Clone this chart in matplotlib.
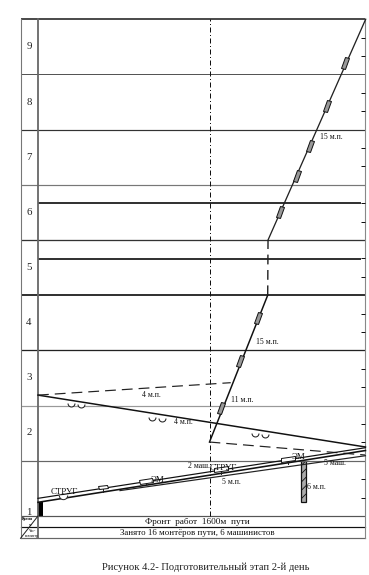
import numpy as np
import matplotlib
matplotlib.use("Agg")
import matplotlib.pyplot as plt
from matplotlib.markers import MarkerStyle
from matplotlib.patches import Rectangle
from matplotlib.path import Path
from matplotlib.transforms import Affine2D

plt.rcParams['font.family'] = ['Liberation Serif', 'DejaVu Serif']
plt.rcParams['hatch.linewidth'] = 0.6

# --- data: x in metres along the track, y in hours ---
hour_labels = ['1', '2', '3', '4', '5', '6', '7', '8', '9']
hour_label_y = [0.07, 1.52, 2.5, 3.5, 4.5, 5.5, 6.5, 7.5, 8.5]
front_m = 1600

progress_m = [1600, 2143]
progress_h = [1.34, 4.0]
pause_m = [2143, 2146]
pause_h = [4.0, 5.0]
progress2_m = [2146, 3057]
progress2_h = [5.0, 9.0]

prep_m = [0, 3055]
prep_h = [2.19, 1.25]
prep_dash_m = [0, 1798]
prep_dash_h = [2.19, 2.415]
low_dash_m = [1600, 3051]
low_dash_h = [1.34, 1.105]

track_a_m = [0, 3055]
track_a_h = [0.32, 1.237]
track_b_m = [0, 3055]
track_b_h = [0.248, 1.186]
track_c_m = [765, 3055]
track_c_h = [0.46, 1.092]

block_m = [1707, 1885, 2053, 2258, 2414, 2535, 2696, 2867]
block_h = [1.957, 2.81, 3.587, 5.507, 6.16, 6.71, 7.43, 8.20]
worker_m = [308, 401, 1061, 1154, 2027, 2121]
worker_h = [2.05, 2.02, 1.80, 1.78, 1.51, 1.48]

machine_m = [604, 1008, 1710, 2333]
machine_h = [0.53, 0.643, 0.85, 1.03]
machine_w = [9, 13, 14, 14]

# --- canvas ---
fig = plt.figure(figsize=(3.69, 5.75), dpi=100)
ax = fig.add_axes([0, 0, 1, 1])
ax.set_xlim(-354.5, 3088)
ax.set_ylim(-1.069, 9.348)
ax.axis('off')

LEFT, RIGHT = -163, 3055
px = 0.72

# horizontal grid (hour, left, colour, width px)
grid = [(9, LEFT, '#222222', 1.6), (8, LEFT, '#555555', 1.0), (7, LEFT, '#333333', 1.2),
        (6, LEFT, '#777777', 1.2), (5, LEFT, '#333333', 1.3), (4, LEFT, '#111111', 1.7),
        (3, LEFT, '#222222', 1.3), (2, LEFT, '#999999', 1.2), (1, LEFT, '#666666', 1.2),
        (0, LEFT, '#555555', 1.2)]
for h, x0, c, w in grid:
    ax.plot([x0, RIGHT], [h, h], color=c, lw=w*px, solid_capstyle='butt')
for h in [5.67, 4.66]:
    ax.plot([0, 3010], [h, h], color='#111111', lw=1.7*px, solid_capstyle='butt')
ax.plot([LEFT, RIGHT], [-0.199, -0.199], color='#111111', lw=1.2*px)
ax.plot([LEFT, RIGHT], [-0.404, -0.404], color='#666666', lw=1.2*px)

# verticals
ax.plot([LEFT, LEFT], [-0.404, 9], color='#777777', lw=1.1*px)
ax.plot([0, 0], [-0.404, 9], color='#666666', lw=1.8*px)
ax.plot([RIGHT, RIGHT], [-0.404, 9], color='#888888', lw=1.1*px)
ax.plot([LEFT, 0], [-0.404, 0], color='#222222', lw=1.0*px)

# right ticks every 20 minutes
for h in np.arange(0, 9, 1):
    for f in (1/3, 2/3):
        ax.plot([3010, RIGHT], [h+f, h+f], color='#111111', lw=1.0*px, solid_capstyle='butt')

# front line
ax.plot([front_m, front_m], [0, 9], color='#111111', lw=1.0*px,
        linestyle=(0, (5, 2.5, 1, 2.5)))

# main lines
ax.plot(progress_m, progress_h, color='#111111', lw=1.5*px)
ax.plot(progress2_m, progress2_h, color='#222222', lw=1.3*px)
ax.plot(pause_m, pause_h, color='#222222', lw=1.4*px, linestyle=(0, (7, 4)))
ax.plot(prep_m, prep_h, color='#111111', lw=1.5*px)
ax.plot(prep_dash_m, prep_dash_h, color='#222222', lw=1.2*px, linestyle=(0, (9, 5)))
ax.plot(low_dash_m, low_dash_h, color='#222222', lw=1.2*px, linestyle=(0, (9, 5)))

# track band
ax.plot(track_a_m, track_a_h, color='#111111', lw=1.2*px)
ax.plot(track_b_m, track_b_h, color='#111111', lw=1.6*px)
ax.plot(track_c_m, track_c_h, color='#222222', lw=1.2*px)

# black bar and hatched column
ax.add_patch(Rectangle((0, 0), 47, 0.26, fc='black', ec='black', lw=0))
ax.add_patch(Rectangle((2451, 0.25), 46, 0.746, fc='#aaaaaa', ec='#111111', lw=0.9, hatch='////'))

# production blocks on the main line
block_marker = MarkerStyle('s', transform=Affine2D().scale(0.36, 1).rotate_deg(-22))
ax.plot(block_m, block_h, ls='none', marker=block_marker, ms=8.6, mfc='#999999', mec='#111111', mew=0.7)

# workers
arc = Path.arc(180, 360)
ax.plot(worker_m, worker_h, ls='none', marker=arc, ms=5.0, mfc='white', mec='#222222', mew=0.75)
ax.plot([232], [0.38], ls='none', marker=arc, ms=6, mfc='white', mec='#222222', mew=0.7)

# machines
machine_marker = MarkerStyle('s', transform=Affine2D().scale(1, 0.3).rotate_deg(9))
for m, h, w in zip(machine_m, machine_h, machine_w):
    ax.plot([m, m], [h-0.09, h], color='#222222', lw=0.7)
    ax.plot([m], [h], ls='none', marker=machine_marker, ms=w*px, mfc='white', mec='#111111', mew=0.7)

# hour labels
for lab, y in zip(hour_labels, hour_label_y):
    ax.text(-84, y, lab, ha='center', va='center', fontsize=7.8, color='#222222')

# annotations
notes = [(2740, 6.87, '15 м.п.'), (2140, 3.16, '15 м.п.'), (1910, 2.1, '11 м.п.'),
         (1060, 2.2, '4 м.п.'), (1360, 1.70, '4 м.п.'), (1800, 0.62, '5 м.п.'),
         (1500, 0.9, '2 маш.'), (2600, 0.53, '6 м.п.'), (2770, 0.96, '5 маш.')]
for x, y, t in notes:
    ax.text(x, y, t, ha='center', va='center', fontsize=5.6, color='#111111')
for x, y, t, fs in [(250, 0.44, 'СТРУГ', 6.4), (1730, 0.87, 'СТРУГ', 6.4),
                    (1110, 0.65, 'ЭМ', 6.4), (2430, 1.07, 'ЭМ', 6.4)]:
    ax.text(x, y, t, ha='center', va='center', fontsize=fs, color='#111111')

# bottom table
ax.text(1490, -0.10, 'Фронт  работ  1600м  пути', ha='center', va='center', fontsize=6.7, color='#111111')
ax.text(1490, -0.30, 'Занято 16 монтёров пути, 6 машинистов', ha='center', va='center', fontsize=6.4, color='#111111')
ax.text(-95, -0.055, 'Время', ha='center', va='center', fontsize=2.8, weight='bold')
ax.text(-70, -0.16, 'ч', ha='center', va='center', fontsize=3.5)
ax.text(-55, -0.27, 'Час-', ha='center', va='center', fontsize=2.8)
ax.text(-55, -0.36, 'километр', ha='center', va='center', fontsize=2.4)

# caption
ax.text(1565, -0.924, 'Рисунок 4.2- Подготовительный этап 2-й день', ha='center', va='center',
        fontsize=7.6, color='#222222')

fig.savefig('out.png', dpi=100)
